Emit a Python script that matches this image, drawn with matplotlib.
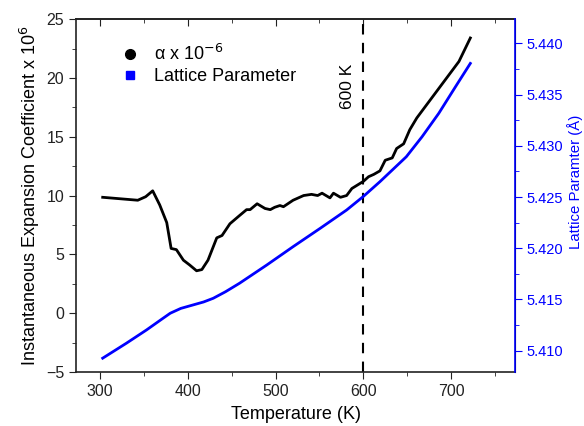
import matplotlib
matplotlib.use('Agg')
import matplotlib.pyplot as plt
from matplotlib.lines import Line2D
from matplotlib.ticker import MultipleLocator, FormatStrFormatter

plt.rcParams['font.family'] = ['Liberation Sans', 'DejaVu Sans']

# expansion coefficient (left axis)
temp_alpha = [303, 343, 352, 360, 368, 376, 381, 387, 395, 402, 410, 416, 423, 433, 439,
              448, 459, 467, 471, 479, 488, 494, 499, 505, 509, 520, 526, 532, 541, 548,
              553, 562, 566, 574, 581, 587, 600, 606, 612, 619, 625, 633, 638, 646, 653,
              661, 668, 680, 693, 709, 722]
alpha = [9.85, 9.6, 9.9, 10.4, 9.2, 7.7, 5.5, 5.4, 4.5, 4.1, 3.6, 3.7, 4.5, 6.4, 6.6,
         7.6, 8.3, 8.8, 8.8, 9.3, 8.9, 8.8, 9.0, 9.15, 9.05, 9.6, 9.8, 10.0, 10.1, 10.0,
         10.2, 9.8, 10.2, 9.85, 10.0, 10.6, 11.2, 11.6, 11.8, 12.1, 13.0, 13.2, 14.0, 14.4, 15.6,
         16.6, 17.3, 18.5, 19.8, 21.4, 23.4]

# lattice parameter (right axis)
temp_lat = [303, 330, 353, 370, 380, 392, 406, 418, 429, 443, 459, 490, 520, 551, 581,
            600, 619, 629, 649, 667, 686, 705, 722]
lattice = [5.40926, 5.41072, 5.41202, 5.41305, 5.41365, 5.41412, 5.41446, 5.41475, 5.41511,
           5.41575, 5.41658, 5.41836, 5.42015, 5.42195, 5.42373, 5.42505, 5.42650, 5.42731,
           5.42893, 5.43089, 5.43317, 5.43576, 5.43805]

fig = plt.figure(figsize=(5.84, 4.26), dpi=100)
ax = fig.add_axes([0.130, 0.127, 0.752, 0.828])
ax2 = ax.twinx()

ax.plot(temp_alpha, alpha, color='black', lw=2)
ax2.plot(temp_lat, lattice, color='#0000ff', lw=2)
ax.axvline(600, color='black', lw=1.5, ls=(0, (5, 4)))
ax.text(582, 19.3, '600 K', rotation=90, ha='center', va='center', fontsize=12.5)

ax.set_xlim(272.5, 773)
ax.set_ylim(-5, 25)
ax2.set_ylim(5.40792, 5.44237)

ax.xaxis.set_major_locator(MultipleLocator(100))
ax.xaxis.set_minor_locator(MultipleLocator(50))
ax.yaxis.set_major_locator(MultipleLocator(5))
ax.yaxis.set_minor_locator(MultipleLocator(2.5))
ax2.yaxis.set_major_locator(MultipleLocator(0.005))
ax2.yaxis.set_minor_locator(MultipleLocator(0.0025))
ax2.yaxis.set_major_formatter(FormatStrFormatter('%.3f'))

ax.tick_params(which='both', direction='out', labelsize=11.5, colors='#222222')
ax.tick_params(which='major', length=5)
ax.tick_params(which='minor', length=3)

# top ticks point inward
top = ax.secondary_xaxis('top')
top.xaxis.set_major_locator(MultipleLocator(100))
top.xaxis.set_minor_locator(MultipleLocator(50))
top.tick_params(which='both', direction='in', labeltop=False, colors='#222222')
top.tick_params(which='major', length=5)
top.tick_params(which='minor', length=3)
top.spines['top'].set_linewidth(1.2)
top.spines['top'].set_color('#222222')

ax2.tick_params(which='both', direction='out', colors='#0000ff', labelsize=10.5, pad=3)
ax2.tick_params(which='major', length=5)
ax2.tick_params(which='minor', length=3)
ax2.spines['right'].set_color('#0000ff')
ax2.spines['right'].set_linewidth(1.2)
for s in ['left', 'bottom', 'top']:
    ax.spines[s].set_linewidth(1.2)
    ax.spines[s].set_color('#222222')
ax2.spines['left'].set_visible(False)
ax2.spines['top'].set_visible(False)
ax2.spines['bottom'].set_visible(False)

ax.set_xlabel('Temperature (K)', fontsize=13, labelpad=5)
ax.set_ylabel('Instantaneous Expansion Coefficient x 10$^6$', fontsize=13, labelpad=3)
ax2.set_ylabel('Lattice Paramter (Å)', fontsize=10.8, color='#0000ff',
               va='center', ha='center')
ax2.yaxis.set_label_coords(1.137, 0.54)

handles = [Line2D([], [], ls='none', marker='o', color='black', markersize=7),
           Line2D([], [], ls='none', marker='s', color='#0000ff', markersize=5.5)]
ax.legend(handles, ['α x 10$^{-6}$', 'Lattice Parameter'], loc='upper left',
          bbox_to_anchor=(0.045, 0.975), frameon=False, fontsize=13,
          handletextpad=0.35, labelspacing=0.2)

fig.savefig('out.png', dpi=100)
